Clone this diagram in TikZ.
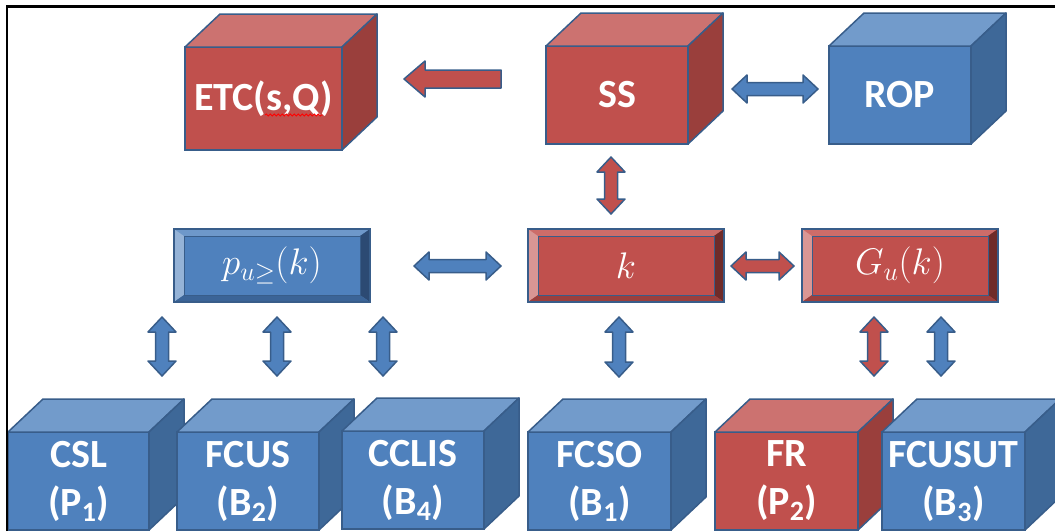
\RequirePackage{fix-cm}
\documentclass[tikz,border=0pt]{standalone}
\usepackage{fontspec}
\newfontfamily\calfont{Carlito}
\usetikzlibrary{calc,decorations.pathmorphing}

\definecolor{edge}{HTML}{385D8A}
\definecolor{redfront}{HTML}{C0504D}
\definecolor{redtop}{HTML}{CC7270}
\definecolor{redside}{HTML}{9A3F3C}
\definecolor{bluefront}{HTML}{4F81BD}
\definecolor{bluetop}{HTML}{729BCB}
\definecolor{blueside}{HTML}{3E6898}
% facets of the flat bevelled boxes
\definecolor{redbvtop}{HTML}{CD6C69}
\definecolor{redbvleft}{HTML}{D99694}
\definecolor{redbvright}{HTML}{6F2B29}
\definecolor{redbvbot}{HTML}{9B3F3D}
\definecolor{bluebvtop}{HTML}{6E98CA}
\definecolor{bluebvleft}{HTML}{95B3D7}
\definecolor{bluebvright}{HTML}{2C4A73}
\definecolor{bluebvbot}{HTML}{3B6497}

\tikzset{
  front/.style={draw=edge, line width=1.5, inner sep=0, outer sep=0,
    minimum width=142, minimum height=98, text=white, align=center,
    font=\calfont\bfseries\fontsize{40}{50}\selectfont},
  face/.style={draw=edge, line width=1.5, line join=round},
  bevel/.style n args={5}{draw=edge, line width=1.5, inner sep=0, outer sep=0,
    fill=#1, minimum width=196, minimum height=73, text=white,
    font=\fontsize{37}{40}\selectfont,
    path picture={
      \coordinate (bnw) at (path picture bounding box.north west);
      \coordinate (bne) at (path picture bounding box.north east);
      \coordinate (bse) at (path picture bounding box.south east);
      \coordinate (bsw) at (path picture bounding box.south west);
      \fill[#2] (bnw) -- (bne) -- ([shift={(-10pt,-7pt)}]bne) -- ([shift={(10pt,-7pt)}]bnw) -- cycle;
      \fill[#3] (bnw) -- ([shift={(10pt,-7pt)}]bnw) -- ([shift={(10pt,7pt)}]bsw) -- (bsw) -- cycle;
      \fill[#4] (bne) -- (bse) -- ([shift={(-10pt,7pt)}]bse) -- ([shift={(-10pt,-7pt)}]bne) -- cycle;
      \fill[#5] (bsw) -- ([shift={(10pt,7pt)}]bsw) -- ([shift={(-10pt,7pt)}]bse) -- (bse) -- cycle;
      \draw[edge, line width=1] ([shift={(10pt,-7pt)}]bnw) rectangle ([shift={(-10pt,7pt)}]bse);
    }},
  dbl/.style={draw=edge, line width=1.5, line join=round, to path={
    (\tikztostart)
    -- ($(\tikztostart)!15pt!(\tikztotarget)!14pt!90:(\tikztotarget)$)
    -- ($(\tikztostart)!15pt!(\tikztotarget)!6.5pt!90:(\tikztotarget)$)
    -- ($(\tikztotarget)!15pt!(\tikztostart)!6.5pt!-90:(\tikztostart)$)
    -- ($(\tikztotarget)!15pt!(\tikztostart)!14pt!-90:(\tikztostart)$)
    -- (\tikztotarget)
    -- ($(\tikztotarget)!15pt!(\tikztostart)!14pt!90:(\tikztostart)$)
    -- ($(\tikztotarget)!15pt!(\tikztostart)!6.5pt!90:(\tikztostart)$)
    -- ($(\tikztostart)!15pt!(\tikztotarget)!6.5pt!-90:(\tikztotarget)$)
    -- ($(\tikztostart)!15pt!(\tikztotarget)!14pt!-90:(\tikztotarget)$)
    -- cycle}},
  sgl/.style={draw=edge, line width=1.5, line join=round, to path={
    ($(\tikztostart)!9pt!90:(\tikztotarget)$)
    -- ($(\tikztotarget)!21pt!(\tikztostart)!9pt!-90:(\tikztostart)$)
    -- ($(\tikztotarget)!21pt!(\tikztostart)!18pt!-90:(\tikztostart)$)
    -- (\tikztotarget)
    -- ($(\tikztotarget)!21pt!(\tikztostart)!18pt!90:(\tikztostart)$)
    -- ($(\tikztotarget)!21pt!(\tikztostart)!9pt!90:(\tikztostart)$)
    -- ($(\tikztostart)!9pt!-90:(\tikztotarget)$)
    -- cycle}}
}

% front face node plus top and side faces
\newcommand\boxcube[6][]{%
  \node[front, fill=#5front, minimum width=#4, #1] (#2) at (#3) {#6};
  \draw[face, fill=#5top] (#2.north west) -- ++(35,-33) -- ([shift={(35,-33)}]#2.north east) -- (#2.north east) -- cycle;
  \draw[face, fill=#5side] (#2.north east) -- ++(35,-33) -- ([shift={(35,-33)}]#2.south east) -- (#2.south east) -- cycle;
}

\begin{document}
\begin{tikzpicture}[x=1pt, y=-1pt]
  \useasboundingbox (0,0) rectangle (1055,531);
  \clip (0,0) rectangle (1055,531);

  % top row
  \boxcube[minimum height=103]{etc}{263.5,98.5}{157}{red}{ETC(s,Q)}
  \boxcube{ss}{617,95}{142}{red}{SS}
  \boxcube{rop}{900,95}{142}{blue}{ROP}
  \draw[red, line width=0.8, decorate, decoration={snake, amplitude=1, segment length=4}] (265,115) -- (323,115);

  % middle row
  \node[bevel={bluefront}{bluebvtop}{bluebvleft}{bluebvright}{bluebvbot}] (pu) at (272,265.5) {$p_{u\geq}(k)$};
  \node[bevel={redfront}{redbvtop}{redbvleft}{redbvright}{redbvbot}] (k) at (626,265.5) {$k$};
  \node[bevel={redfront}{redbvtop}{redbvleft}{redbvright}{redbvbot}] (gu) at (900,265.5) {$G_u(k)$};

  % bottom row
  \boxcube{csl}{78.5,481}{141}{blue}{CSL\\[-2pt](P\textsubscript{1})}
  \boxcube{fcus}{248,481}{142}{blue}{FCUS\\[-2pt](B\textsubscript{2})}
  \boxcube{cclis}{413,480}{142}{blue}{CCLIS\\[-2pt](B\textsubscript{4})}
  \boxcube{fcso}{599.5,481}{143}{blue}{FCSO\\[-2pt](B\textsubscript{1})}
  \boxcube{fr}{786.5,481}{143}{red}{FR\\[-2pt](P\textsubscript{2})}
  \boxcube{fcusut}{953.5,481}{143}{blue}{FCUSUT\\[-2pt](B\textsubscript{3})}

  % arrow ends
  \coordinate (ssout) at (501,79);   \coordinate (etcin) at (404,79);
  \coordinate (ssr) at (732,89);     \coordinate (ropl) at (818,89);
  \coordinate (ssb) at (611,157);    \coordinate (kt) at (611,214);
  \coordinate (pur) at (414,266);    \coordinate (kl) at (501,266);
  \coordinate (kr) at (731,266);     \coordinate (gul) at (794,266);
  \coordinate (pub1) at (162,317);   \coordinate (cslt) at (162,376);
  \coordinate (pub2) at (277,317);   \coordinate (fcust) at (277,376);
  \coordinate (pub3) at (383,317);   \coordinate (cclist) at (383,376);
  \coordinate (kb) at (619,317);     \coordinate (fcsot) at (619,377);
  \coordinate (gub1) at (874,317);   \coordinate (frt) at (874,376);
  \coordinate (gub2) at (941,317);   \coordinate (fcusutt) at (941,376);

  \draw[sgl, fill=redfront] (ssout) to (etcin);
  \draw[dbl, fill=bluefront] (ssr) to (ropl);
  \draw[dbl, fill=redfront] (ssb) to (kt);
  \draw[dbl, fill=bluefront] (pur) to (kl);
  \draw[dbl, fill=redfront] (kr) to (gul);
  \draw[dbl, fill=bluefront] (pub1) to (cslt);
  \draw[dbl, fill=bluefront] (pub2) to (fcust);
  \draw[dbl, fill=bluefront] (pub3) to (cclist);
  \draw[dbl, fill=bluefront] (kb) to (fcsot);
  \draw[dbl, fill=redfront] (gub1) to (frt);
  \draw[dbl, fill=bluefront] (gub2) to (fcusutt);

  % frame
  \draw[line width=2.5] (7,531) -- (7,6.5) -- (1055,6.5);
\end{tikzpicture}
\end{document}
